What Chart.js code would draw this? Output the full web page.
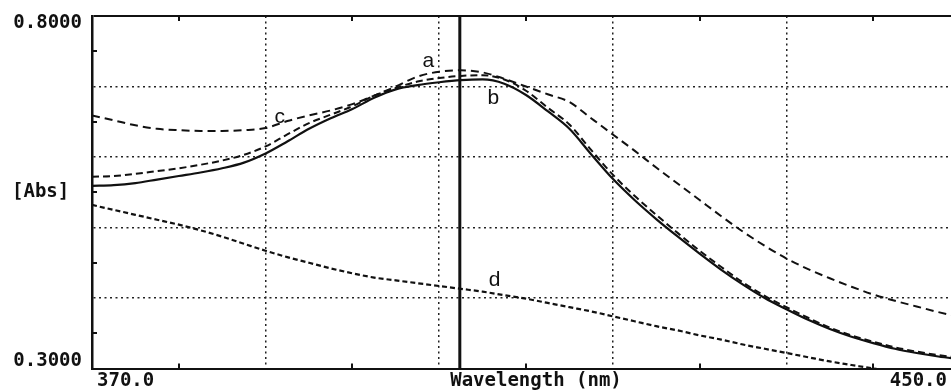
<!DOCTYPE html>
<html lang="en">
<head>
<meta charset="UTF-8">
<title>Absorbance spectra</title>
<script src="https://cdn.jsdelivr.net/npm/chart.js"></script>
<style>
  html, body { margin: 0; padding: 0; background: #fff; overflow: hidden; }
  #wrap { width: 962px; height: 391px; }
</style>
</head>
<body>
<div id="wrap"><canvas id="spectra" width="962" height="391"></canvas></div>
<script>
// wavelength in nm, absorbance
const wavelengths = [370, 372, 374, 376, 378, 380, 382, 384, 386, 388, 390, 392, 394, 396, 398, 400,
  402, 404, 406, 408, 410, 412, 414, 416, 418, 420, 422, 424, 426, 428, 430, 432, 434, 436, 438, 440,
  442, 444, 446, 448, 450];
const curveA = [0.572, 0.573, 0.576, 0.580, 0.584, 0.589, 0.595, 0.603, 0.615, 0.632, 0.648, 0.660,
  0.672, 0.687, 0.698, 0.707, 0.712, 0.715, 0.716, 0.710, 0.694, 0.670, 0.646, 0.610, 0.575, 0.545,
  0.518, 0.492, 0.467, 0.444, 0.422, 0.403, 0.387, 0.372, 0.358, 0.347, 0.338, 0.330, 0.324, 0.319, 0.315];
const curveB = [0.559, 0.560, 0.563, 0.568, 0.573, 0.578, 0.584, 0.592, 0.605, 0.622, 0.640, 0.655,
  0.668, 0.684, 0.696, 0.702, 0.706, 0.709, 0.710, 0.704, 0.688, 0.665, 0.640, 0.604, 0.569, 0.539,
  0.512, 0.487, 0.463, 0.440, 0.419, 0.400, 0.384, 0.369, 0.356, 0.345, 0.336, 0.328, 0.322, 0.317, 0.313];
const curveC = [0.659, 0.652, 0.645, 0.640, 0.638, 0.637, 0.637, 0.638, 0.641, 0.651, 0.659, 0.666,
  0.675, 0.687, 0.700, 0.714, 0.721, 0.723, 0.720, 0.711, 0.700, 0.689, 0.678, 0.655, 0.632, 0.609,
  0.585, 0.562, 0.539, 0.516, 0.494, 0.474, 0.456, 0.441, 0.428, 0.416, 0.405, 0.396, 0.388, 0.380, 0.373];
const curveD = [0.532, 0.525, 0.518, 0.511, 0.504, 0.496, 0.487, 0.477, 0.467, 0.458, 0.450, 0.442,
  0.435, 0.429, 0.425, 0.421, 0.417, 0.413, 0.409, 0.404, 0.399, 0.393, 0.387, 0.381, 0.374, 0.367,
  0.360, 0.354, 0.347, 0.341, 0.334, 0.328, 0.322, 0.316, 0.310, 0.305, 0.300, 0.296, 0.293, 0.291, 0.289];

const cursorNm = 403.9;
const xGridNm = [370, 386, 402, 418, 434, 450];
const xMinorNm = [378, 394, 410, 426, 442];
const yGridAbs = [0.3, 0.4, 0.5, 0.6, 0.7, 0.8];
const yMinorAbs = [0.35, 0.45, 0.55, 0.65, 0.75];
const xTickLabels = ['370.0', '450.0'];
const yTickLabels = ['0.3000', '0.8000'];
const xTitle = 'Wavelength (nm)';
const yTitle = '[Abs]';
const curveNames = ['a', 'b', 'c', 'd'];
// where the letters sit, in data units
const tagX = [401.0, 407.0, 387.3, 407.1];
const tagY = [0.736, 0.684, 0.657, 0.4255];

const INK = '#111';
const pts = vals => vals.map((v, i) => ({x: wavelengths[i], y: v}));

const frameText = {
  id: 'frameText',
  afterDraw(chart) {
    const {ctx, chartArea: area, scales: {x, y}} = chart;
    ctx.save();
    // small half-division ticks on the frame
    ctx.strokeStyle = INK;
    ctx.lineWidth = 2;
    ctx.beginPath();
    xMinorNm.forEach(v => {
      const px = Math.round(x.getPixelForValue(v));
      ctx.moveTo(px, area.top); ctx.lineTo(px, area.top + 5);
      ctx.moveTo(px, area.bottom); ctx.lineTo(px, area.bottom - 5);
    });
    yMinorAbs.forEach(v => {
      const py = Math.round(y.getPixelForValue(v));
      ctx.moveTo(area.left, py); ctx.lineTo(area.left + 5, py);
    });
    ctx.stroke();

    ctx.fillStyle = INK;
    ctx.font = 'bold 19px "DejaVu Sans Mono"';
    ctx.textBaseline = 'middle';
    ctx.textAlign = 'right';
    ctx.fillText(yTickLabels[1], area.left - 10, area.top + 7);
    ctx.fillText(yTickLabels[0], area.left - 10, area.bottom - 7);
    ctx.textAlign = 'left';
    ctx.fillText(yTitle, 12, (area.top + area.bottom) / 2);
    ctx.fillText(xTickLabels[0], area.left + 5, area.bottom + 13);
    ctx.textAlign = 'right';
    ctx.fillText(xTickLabels[1], area.right - 13, area.bottom + 13);
    ctx.textAlign = 'center';
    ctx.fillText(xTitle, (area.left + area.right) / 2 + 10, area.bottom + 13);

    ctx.font = '21px "Liberation Sans"';
    curveNames.forEach((t, i) => {
      ctx.fillText(t, x.getPixelForValue(tagX[i]), y.getPixelForValue(tagY[i]));
    });
    ctx.restore();
  }
};

const isEdge = (c, v) => c.tick && c.tick.value === v;

new Chart(document.getElementById('spectra'), {
  type: 'line',
  data: {
    datasets: [
      { label: 'd', data: pts(curveD), borderDash: [5, 3], borderWidth: 2.2 },
      { label: 'c', data: pts(curveC), borderDash: [8, 5], borderWidth: 2 },
      { label: 'a', data: pts(curveA), borderDash: [7, 4], borderWidth: 2 },
      { label: 'b', data: pts(curveB), borderWidth: 2.2 },
      { label: 'cursor', data: [{x: cursorNm, y: 0.3}, {x: cursorNm, y: 0.8}], borderWidth: 3 }
    ].map(d => Object.assign({
      borderColor: INK, pointRadius: 0, fill: false, cubicInterpolationMode: 'monotone'
    }, d))
  },
  options: {
    responsive: false,
    animation: false,
    layout: { padding: { left: 92, right: 2, top: 16, bottom: 22.5 } },
    plugins: { legend: { display: false }, tooltip: { enabled: false } },
    scales: {
      x: {
        type: 'linear', min: 370, max: 450,
        afterBuildTicks: s => { s.ticks = xGridNm.map(v => ({value: v})); },
        ticks: { display: false },
        grid: {
          drawTicks: false,
          color: c => isEdge(c, 450) ? INK : '#222',
          lineWidth: c => isEdge(c, 450) ? 2 : 1.5
        },
        border: { color: INK, width: 2, dash: c => isEdge(c, 450) ? [] : [2, 3.5] }
      },
      y: {
        min: 0.3, max: 0.8,
        afterBuildTicks: s => { s.ticks = yGridAbs.map(v => ({value: v})); },
        ticks: { display: false },
        grid: {
          drawTicks: false,
          color: c => isEdge(c, 0.8) ? INK : '#222',
          lineWidth: c => isEdge(c, 0.8) ? 2 : 1.5
        },
        border: { color: INK, width: 2.5, dash: c => isEdge(c, 0.8) ? [] : [2, 3.5] }
      }
    }
  },
  plugins: [frameText]
});
</script>
</body>
</html>
